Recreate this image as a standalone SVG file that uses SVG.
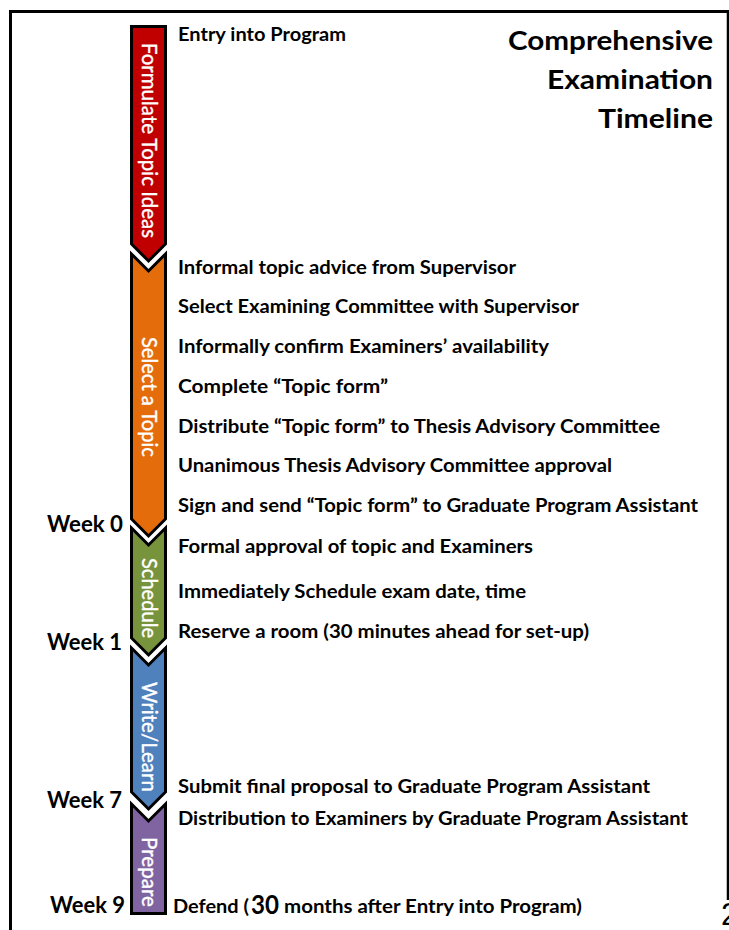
<svg xmlns="http://www.w3.org/2000/svg" width="729" height="930" viewBox="0 0 729 930">
<style>
.chev{stroke:#000;stroke-width:3;stroke-linejoin:miter}
.lbl{font-family:Lato,"Open Sans",sans-serif;font-size:21px;fill:#fff;stroke:#fff;stroke-width:0.4;text-anchor:middle}
.item{font-family:Lato,"Open Sans",sans-serif;font-size:19px;font-weight:bold;fill:#000}
.week{font-family:Lato,"Open Sans",sans-serif;font-size:23px;font-weight:bold;fill:#000}
.title{font-family:Lato,"Open Sans",sans-serif;font-size:27px;font-weight:bold;fill:#000}
.frame{stroke:#000;fill:none}
</style>
<rect width="729" height="930" fill="#fff"/>
<g id="frame">
<line class="frame" x1="9" y1="11.5" x2="729" y2="11.5" stroke-width="3"/>
<line class="frame" x1="10.5" y1="10" x2="10.5" y2="930" stroke-width="3"/>
<line class="frame" x1="728" y1="10" x2="728" y2="900" stroke-width="2.5"/>
</g>
<g id="title">
<text class="title" x="508" y="50" textLength="205" lengthAdjust="spacingAndGlyphs">Comprehensive</text>
<text class="title" x="547" y="89" textLength="166" lengthAdjust="spacingAndGlyphs">Examination</text>
<text class="title" x="598" y="128" textLength="115" lengthAdjust="spacingAndGlyphs">Timeline</text>
</g>
<g id="phase-formulate">
<polygon class="chev" fill="#C00000" points="131.5,26.5 165.5,26.5 165.5,244 148.5,261 131.5,244"/>
<text class="lbl" transform="translate(148.5,140.5) rotate(90)" y="7" textLength="195" lengthAdjust="spacingAndGlyphs">Formulate Topic Ideas</text>
</g>
<g id="phase-select">
<polygon class="chev" fill="#E46C0A" points="131.5,254 148.5,271 165.5,254 165.5,519 148.5,536 131.5,519"/>
<text class="lbl" transform="translate(148.5,397) rotate(90)" y="7" textLength="120" lengthAdjust="spacingAndGlyphs">Select a Topic</text>
</g>
<g id="phase-schedule">
<polygon class="chev" fill="#77933C" points="131.5,528 148.5,545 165.5,528 165.5,638 148.5,655 131.5,638"/>
<text class="lbl" transform="translate(148.5,598) rotate(90)" y="7" textLength="80" lengthAdjust="spacingAndGlyphs">Schedule</text>
</g>
<g id="phase-write">
<polygon class="chev" fill="#4F81BD" points="131.5,648 148.5,665 165.5,648 165.5,792 148.5,809 131.5,792"/>
<text class="lbl" transform="translate(148.5,737) rotate(90)" y="7" textLength="110" lengthAdjust="spacingAndGlyphs">Write/Learn</text>
</g>
<g id="phase-prepare">
<polygon class="chev" fill="#8064A2" points="131.5,804 148.5,821 165.5,804 165.5,913.5 131.5,913.5"/>
<text class="lbl" transform="translate(148.5,872) rotate(90)" y="7" textLength="70" lengthAdjust="spacingAndGlyphs">Prepare</text>
</g>
<g id="weeks">
<text class="week" x="47" y="532" textLength="76" lengthAdjust="spacingAndGlyphs">Week 0</text>
<text class="week" x="47" y="650" textLength="75" lengthAdjust="spacingAndGlyphs">Week 1</text>
<text class="week" x="47" y="808" textLength="75" lengthAdjust="spacingAndGlyphs">Week 7</text>
<text class="week" x="50" y="913" textLength="75" lengthAdjust="spacingAndGlyphs">Week 9</text>
</g>
<g id="steps">
<text class="item" x="178" y="41" textLength="168" lengthAdjust="spacingAndGlyphs">Entry into Program</text>
<text class="item" x="178" y="274" textLength="338" lengthAdjust="spacingAndGlyphs">Informal topic advice from Supervisor</text>
<text class="item" x="178" y="313" textLength="401" lengthAdjust="spacingAndGlyphs">Select Examining Committee with Supervisor</text>
<text class="item" x="178" y="353" textLength="371" lengthAdjust="spacingAndGlyphs">Informally confirm Examiners’ availability</text>
<text class="item" x="178" y="393" textLength="210" lengthAdjust="spacingAndGlyphs">Complete “Topic form”</text>
<text class="item" x="178" y="433" textLength="482" lengthAdjust="spacingAndGlyphs">Distribute “Topic form” to Thesis Advisory Committee</text>
<text class="item" x="178" y="472" textLength="434" lengthAdjust="spacingAndGlyphs">Unanimous Thesis Advisory Committee approval</text>
<text class="item" x="178" y="512" textLength="520" lengthAdjust="spacingAndGlyphs">Sign and send “Topic form” to Graduate Program Assistant</text>
<text class="item" x="178" y="553" textLength="355" lengthAdjust="spacingAndGlyphs">Formal approval of topic and Examiners</text>
<text class="item" x="178" y="598" textLength="348" lengthAdjust="spacingAndGlyphs">Immediately Schedule exam date, time</text>
<text class="item" x="178" y="638" textLength="411" lengthAdjust="spacingAndGlyphs">Reserve a room (30 minutes ahead for set-up)</text>
<text class="item" x="178" y="793" textLength="472" lengthAdjust="spacingAndGlyphs">Submit final proposal to Graduate Program Assistant</text>
<text class="item" x="178" y="825" textLength="510" lengthAdjust="spacingAndGlyphs">Distribution to Examiners by Graduate Program Assistant</text>
</g>
<g id="defend">
<text class="item" x="173" y="913" textLength="76" lengthAdjust="spacingAndGlyphs">Defend (</text>
<text class="item" x="251" y="914" style="font-size:27px" textLength="28" lengthAdjust="spacingAndGlyphs">30</text>
<text class="item" x="284" y="913" textLength="298" lengthAdjust="spacingAndGlyphs">months after Entry into Program)</text>
</g>
<g id="connectors"></g>
<text x="721" y="925" font-family="'Liberation Sans',sans-serif" font-size="31" fill="#000">2</text>
</svg>
